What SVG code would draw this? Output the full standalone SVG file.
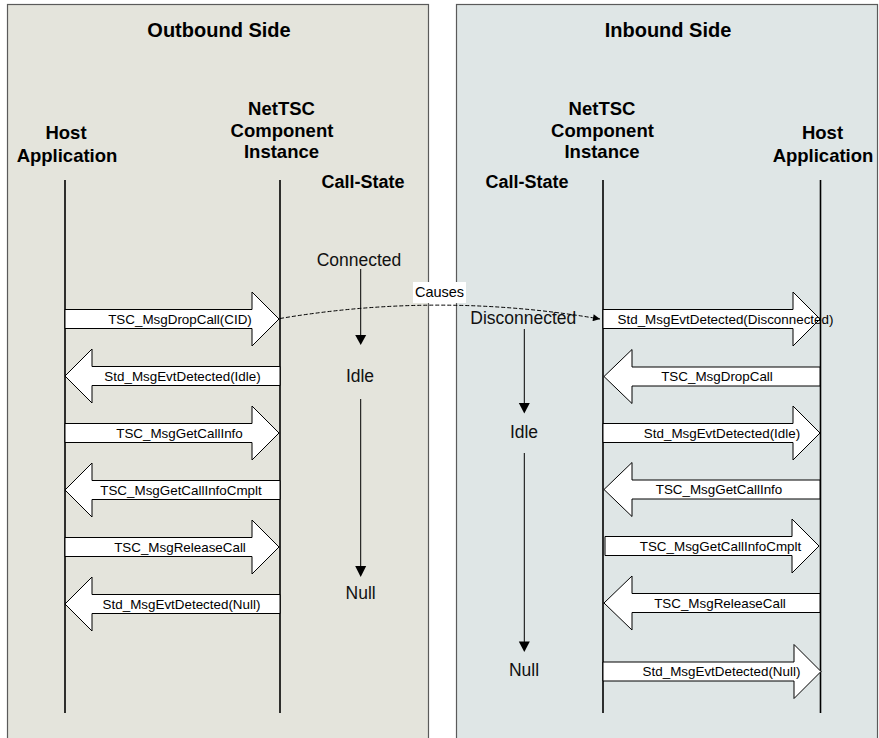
<svg xmlns="http://www.w3.org/2000/svg" width="879" height="738" viewBox="0 0 879 738">
  <style>
    .panel { stroke: #5a5a5a; stroke-width: 1.2; }
    .title { font: bold 20px "Liberation Sans", Arial, sans-serif; text-anchor: middle; fill: #000; }
    .head { font: bold 18.5px "Liberation Sans", Arial, sans-serif; text-anchor: middle; fill: #000; }
    .cs { font: bold 18px "Liberation Sans", Arial, sans-serif; text-anchor: middle; fill: #000; }
    .state { font: 17.5px "Liberation Sans", Arial, sans-serif; text-anchor: middle; fill: #111; }
    .msg { font: 13.4px "Liberation Sans", Arial, sans-serif; text-anchor: middle; fill: #000; }
    .life { stroke: #000; stroke-width: 1.6; fill: none; }
    .arrow { fill: #fff; stroke: #000; stroke-width: 1; stroke-linejoin: miter; }
    .flow { stroke: #000; stroke-width: 1; fill: none; }
    .tip { fill: #000; }
    .cause { stroke: #000; stroke-width: 1; fill: none; stroke-dasharray: 4 2; }
  </style>
  <defs>
    <marker id="dashHead" viewBox="0 0 10 10" refX="10" refY="5" markerWidth="8" markerHeight="7" markerUnits="userSpaceOnUse" orient="auto">
      <path d="M0,0 L10,5 L0,10 Z" fill="#000"/>
    </marker>
  </defs>

  <rect width="879" height="738" fill="#fff"/>

  <!-- side panels -->
  <g id="outbound-panel">
    <rect class="panel" x="7.5" y="4.5" width="421" height="745" fill="#e4e4dc"/>
    <text class="title" x="219" y="37">Outbound Side</text>
  </g>
  <g id="inbound-panel">
    <rect class="panel" x="456.5" y="4.5" width="421" height="745" fill="#dfe6e6"/>
    <text class="title" x="668" y="37">Inbound Side</text>
  </g>

  <!-- participants with lifelines -->
  <g id="out-host">
    <text class="head" x="66" y="139">Host</text>
    <text class="head" x="67" y="161.5">Application</text>
    <line class="life" x1="65" y1="180" x2="65" y2="713"/>
  </g>
  <g id="out-nettsc">
    <text class="head" x="281.5" y="115">NetTSC</text>
    <text class="head" x="282" y="137">Component</text>
    <text class="head" x="281.5" y="158">Instance</text>
    <line class="life" x1="280" y1="180" x2="280" y2="713"/>
  </g>
  <g id="in-nettsc">
    <text class="head" x="602" y="115">NetTSC</text>
    <text class="head" x="602.5" y="137">Component</text>
    <text class="head" x="602" y="158">Instance</text>
    <line class="life" x1="603" y1="180" x2="603" y2="713"/>
  </g>
  <g id="in-host">
    <text class="head" x="822.5" y="139">Host</text>
    <text class="head" x="823" y="161.5">Application</text>
    <line class="life" x1="820.5" y1="180" x2="820.5" y2="713"/>
  </g>

  <!-- call-state columns -->
  <g id="out-callstate">
    <text class="cs" x="363" y="188">Call-State</text>
    <text class="state" x="359" y="266">Connected</text>
    <line class="flow" x1="360.7" y1="269" x2="360.7" y2="336"/>
    <path class="tip" d="M355.2,335 H366.2 L360.7,345 Z"/>
    <text class="state" x="360" y="381.5">Idle</text>
    <line class="flow" x1="360.7" y1="399" x2="360.7" y2="567"/>
    <path class="tip" d="M355.2,566 H366.2 L360.7,577 Z"/>
    <text class="state" x="360.7" y="599">Null</text>
  </g>
  <g id="in-callstate">
    <text class="cs" x="527" y="188">Call-State</text>
    <text class="state" x="523.3" y="324">Disconnected</text>
    <line class="flow" x1="524.3" y1="329" x2="524.3" y2="404"/>
    <path class="tip" d="M518.8,403 H529.8 L524.3,413.5 Z"/>
    <text class="state" x="524" y="438">Idle</text>
    <line class="flow" x1="524.3" y1="453" x2="524.3" y2="642"/>
    <path class="tip" d="M518.8,641.5 H529.8 L524.3,652 Z"/>
    <text class="state" x="524" y="676">Null</text>
  </g>

  <!-- messages -->
  <g id="connectors">
    <!-- outbound side -->
    <path class="arrow" d="M65,309.5 H252 V292 L279,319 L252,346 V328.5 H65 Z"/>
    <text class="msg" x="180" y="323.5">TSC_MsgDropCall(CID)</text>

    <path class="arrow" d="M65,376 L92,349 V366.5 H280 V385.5 H92 V403 Z"/>
    <text class="msg" x="182.5" y="380.5">Std_MsgEvtDetected(Idle)</text>

    <path class="arrow" d="M65,423.5 H252 V406 L279,433 L252,460 V442.5 H65 Z"/>
    <text class="msg" x="179.5" y="437.5">TSC_MsgGetCallInfo</text>

    <path class="arrow" d="M65,490 L92,463 V480.5 H280 V499.5 H92 V517 Z"/>
    <text class="msg" x="181" y="494.5">TSC_MsgGetCallInfoCmplt</text>

    <path class="arrow" d="M65,537.5 H252 V520 L279,547 L252,574 V556.5 H65 Z"/>
    <text class="msg" x="180" y="551.5">TSC_MsgReleaseCall</text>

    <path class="arrow" d="M65,604 L92,577 V594.5 H280 V613.5 H92 V631 Z"/>
    <text class="msg" x="181.5" y="608.5">Std_MsgEvtDetected(Null)</text>

    <!-- inbound side -->
    <path class="arrow" d="M603,309.5 H793 V292 L820,319 L793,346 V328.5 H603 Z"/>
    <text class="msg" x="725.5" y="323.5">Std_MsgEvtDetected(Disconnected)</text>

    <path class="arrow" d="M604,376.5 L632,349.5 V367 H820 V386 H632 V403.5 Z"/>
    <text class="msg" x="717" y="381">TSC_MsgDropCall</text>

    <path class="arrow" d="M603,423.5 H793 V406 L820,433 L793,460 V442.5 H603 Z"/>
    <text class="msg" x="722" y="437.5">Std_MsgEvtDetected(Idle)</text>

    <path class="arrow" d="M604,489.5 L632,462.5 V480 H820 V499 H632 V516.5 Z"/>
    <text class="msg" x="719" y="494">TSC_MsgGetCallInfo</text>

    <path class="arrow" d="M605,536.5 H792 V519 L819,546 L792,573 V555.5 H605 Z"/>
    <text class="msg" x="720.5" y="550.5">TSC_MsgGetCallInfoCmplt</text>

    <path class="arrow" d="M604,603 L632,576 V593.5 H820 V612.5 H632 V630 Z"/>
    <text class="msg" x="720" y="607.5">TSC_MsgReleaseCall</text>

    <path class="arrow" d="M603,662 H794 V644.5 L821,671.5 L794,698.5 V681 H603 Z"/>
    <text class="msg" x="721.5" y="676">Std_MsgEvtDetected(Null)</text>

    <!-- cross-side causality -->
    <path class="cause" d="M280,318.5 Q440,291.5 600,319" marker-end="url(#dashHead)"/>
    <g id="causes-label">
      <rect x="413" y="282" width="53" height="21" fill="#fff"/>
      <text x="439.5" y="297" font-family="'Liberation Sans', Arial, sans-serif" font-size="14.5" text-anchor="middle" fill="#000">Causes</text>
    </g>
  </g>
</svg>
